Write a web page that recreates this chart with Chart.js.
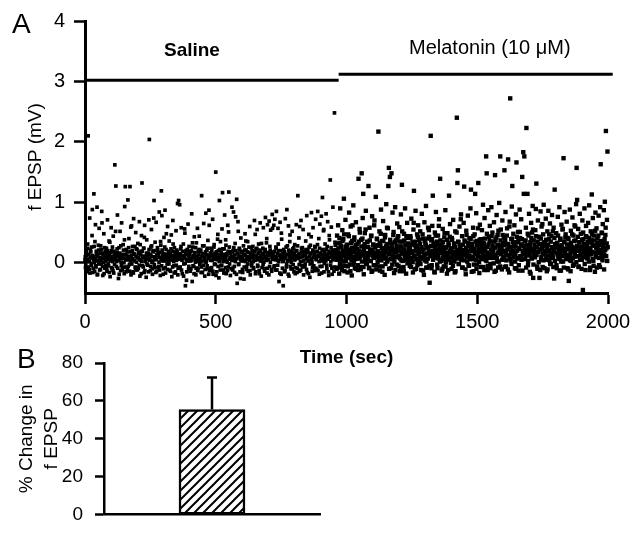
<!DOCTYPE html>
<html>
<head>
<meta charset="utf-8">
<script src="https://cdn.jsdelivr.net/npm/chart.js@4.4.0/dist/chart.umd.min.js"></script>
<style>
  html, body { margin: 0; padding: 0; background: #fff; }
  #wrap { position: relative; width: 640px; height: 538px; overflow: hidden; }
  #wrap canvas { position: absolute; left: 0; }
  #panelA { top: 0; }
  #panelB { top: 338px; }
</style>
</head>
<body>
<div id="wrap">
  <canvas id="panelA" width="640" height="375"></canvas>
  <canvas id="panelB" width="640" height="200"></canvas>
</div>
<script>
// Panel A: fEPSP amplitude (mV), one sweep per second.
// Even and odd second sweeps are kept in separate lists, 2 sec apart each.
const sampleInterval = 2;
const salineStart = 0;
const melatoninStart = 960;

const salineEven = [
  0.05, -0.08, 0.22, 0.12, -0.15, 0.31, 2.10, 0.02, -0.11, 0.74, 0.08, 0.18, -0.04, 0.26, 0.88, -0.16, 0.10, 1.14, 0.01, 0.35,
  0.63, -0.07, 0.14, 0.92, -0.19, 0.04, 0.21, 0.57, -0.12, 0.09, 0.28, -0.02, 0.85, 0.16, -0.21, 0.07, 0.48, 0.12, -0.09, 0.19,
  0.03, 0.24, -0.14, 0.71, 0.11, -0.05, 0.36, 0.15, -0.23, 0.06, 0.58, 0.20, -0.10, 0.02, 0.44, -0.17, 0.13, 1.62, 0.08, 1.27,
  -0.06, 0.17, 0.79, 0.04, -0.26, 0.25, 0.10, 0.52, -0.13, 0.01, 0.66, 0.14, -0.08, 0.30, 0.07, -0.18, 0.93, 1.26, 0.05, 0.22,
  0.12, -0.11, 1.04, 0.09, 0.40, -0.03, 1.26, 0.18, -0.20, 0.61, 0.06, 0.27, -0.15, 0.73, 0.03, 0.14, -0.07, 0.50, 0.23, -0.12,
  0.08, 0.32, -0.09, 0.15, 0.68, -0.22, 0.04, 0.19, 0.45, 1.32, -0.05, 0.11, 0.24, -0.16, 0.62, 0.02, 0.09, -0.24, 0.38, 0.13,
  -0.04, 0.16, 0.71, 2.04, 0.07, -0.13, 0.26, 0.55, 0.01, -0.19, 0.20, 0.10, 1.03, -0.08, 0.34, 0.05, 0.67, -0.14, 0.12, 0.21,
  0.17, -0.06, 0.84, 0.09, -0.21, 0.29, 1.19, 0.78, 0.03, 0.13, -0.10, 0.42, 0.06, 0.87, -0.17, 0.22, 0.11, -0.02, 0.60, 0.08,
  0.02, 0.36, -0.12, 0.14, 0.05, 0.46, -0.23, 0.19, 0.70, 0.07, -0.05, 0.25, 0.11, -0.15, 0.53, 0.04, 0.18, 0.98, -0.09, 1.03,
  0.15, 0.96, -0.07, 0.23, 0.58, 0.06, -0.18, 0.12, 0.31, -0.02, 0.09, 0.49, -0.38, 0.20, -0.29, 0.03, 0.14, 0.64, -0.11, 0.27,
  0.07, -0.14, 0.19, 0.04, 0.81, -0.31, 0.26, 0.10, -0.06, 0.43, 0.16, 0.01, -0.20, 0.33, 0.08, 0.57, -0.09, 0.13, 0.22, 0.05,
  0.18, 0.02, -0.16, 1.11, 0.11, 0.28, -0.04, 0.65, 0.06, -0.22, 0.15, 0.82, 0.03, 0.21, -0.10, 0.37, 0.09, 0.87, -0.13, 0.12,
  0.04, 0.24, -0.08, 0.14, 0.72, -0.19, 0.07, 0.30, 0.10, -0.03, 1.50, 0.17, -0.15, 0.05, 0.47, 0.20, -0.25, 1.03, 0.08, 0.35,
  -0.05, 0.13, 0.56, 1.16, 0.02, -0.12, 0.23, 0.79, 0.09, 0.38, -0.18, 0.15, 0.01, 0.62, -0.07, 1.17, 0.26, 0.06, -0.21, 0.18,
  0.11, 0.92, -0.09, 0.20, 0.84, 0.04, -0.16, 0.32, 0.76, 0.07, 1.05, -0.34, 0.16, 0.52, -0.02, 0.24, 0.10, -0.26, 0.41, 0.03,
  0.19, -0.11, 0.06, 0.28, -0.27, 0.14, 0.48, 0.02, 0.21, -0.06, 0.09, 0.35, -0.14, 0.17, 0.05, 0.60, -0.20, 0.12, 0.25, 0.00,
  0.08, 0.27, -0.08, 0.13, 0.70, 0.04, -0.18, 0.22, 0.10, 0.55, -0.04, 0.16, 0.31, -0.13, 0.07, 0.66, 0.19, -0.22, 0.03, 0.14,
  0.24, 0.58, 0.01, -0.10, 0.18, 0.75, 0.09, 0.33, -0.17, 0.63, 0.12, 0.05, 0.69, -0.06, 0.21, 0.54, 0.15, -0.14, 0.80, 0.06,
  0.17, 0.62, -0.05, 0.72, 0.10, 0.26, 0.85, -0.12, 0.04, 0.57, 0.20, -0.31, 0.13, 0.67, 0.07, -0.19, 0.39, 0.11, 0.02, -0.38,
  0.22, -0.15, 0.09, 0.73, 0.14, -0.07, 0.88, 0.28, 0.03, 0.61, -0.22, 0.16, 0.46, 0.06, -0.10, 0.19, 0.52, 0.11, -0.03, 0.25,
  0.05, 0.30, -0.18, 0.12, 0.63, 0.20, -0.09, 1.11, 0.08, 0.41, -0.14, 0.15, 0.02, 0.70, 0.24, -0.05, 0.10, 0.55, -0.20, 0.17,
  0.13, -0.02, 0.36, 0.07, 0.78, -0.16, 0.21, 0.04, 0.47, 0.11, -0.24, 0.29, 0.16, 0.83, 0.01, -0.08, 0.58, 0.19, 0.09, -0.13,
  0.26, 0.72, 0.06, -0.11, 0.18, 0.85, 0.10, 0.40, -0.19, 0.64, 0.14, 0.03, 0.77, -0.06, 1.08, 0.22, 0.53, -0.15, 0.08, 0.31,
  0.12, 0.81, -0.04, 0.27, 0.68, 0.09, -0.21, 0.45, 0.16, 1.37, 0.02, 0.59, -0.09, 0.20, 0.92, 0.07, -0.14, 2.48, 0.34, 0.11
];

const salineOdd = [
  0.10, -0.03, 0.18, -0.12, 0.06, 0.24, -0.07, 0.14, 0.02, -0.17, 0.21, 0.09, -0.01, 0.45, 0.12, -0.09, 0.05, 0.27, -0.14, 0.08,
  -0.05, 0.19, 0.03, -0.20, 0.11, 0.29, -0.02, 0.07, 0.16, -0.11, 0.04, 0.22, 0.66, -0.06, 0.13, 0.01, -0.18, 0.25, 0.09, -0.04,
  0.15, -0.10, 0.06, 0.20, -0.01, 0.12, -0.16, 0.34, 0.03, 0.17, -0.08, 0.10, 0.26, -0.13, 0.05, 0.19, -0.03, 0.08, 0.52, 0.14,
  0.02, 0.23, -0.09, 0.11, 0.04, -0.19, 0.16, 0.07, 0.28, -0.05, 0.13, -0.12, 0.09, 0.21, 0.00, 0.38, -0.07, 0.14, -0.15, 0.06,
  0.18, 0.05, -0.06, 0.25, 0.10, -0.14, 0.03, 0.59, 0.12, -0.02, 0.20, 0.07, -0.17, 0.15, 0.04, 0.27, -0.09, 0.11, 0.01, 0.22,
  -0.11, 0.09, 0.17, -0.04, 0.06, 0.30, 0.13, -0.18, 0.02, 0.19, 0.08, -0.07, 0.24, 0.42, -0.13, 0.10, 0.05, 0.16, -0.02, 0.12,
  0.07, -0.15, 0.22, 0.04, 0.14, -0.06, 0.11, 0.28, -0.10, 0.03, 0.18, 0.74, -0.03, 0.09, 0.20, -0.16, 0.06, 0.13, 0.25, -0.08,
  0.12, 0.01, -0.12, 0.17, 0.35, 0.06, -0.05, 0.21, 0.10, -0.19, 0.15, 0.03, 0.26, -0.08, 0.08, 0.48, 0.14, -0.11, 0.04, 0.19,
  -0.02, 0.16, 0.09, -0.14, 0.23, 0.05, 0.12, -0.07, 0.31, 0.02, -0.17, 0.18, 0.07, 0.13, -0.04, 0.21, 0.10, -0.20, 0.15, 0.06,
  0.09, -0.08, 0.14, 0.27, -0.12, 0.04, 0.19, 0.08, -0.22, 0.11, 0.56, -0.01, 0.16, 0.06, -0.15, 0.22, 0.03, 0.12, -0.06, 0.18,
  0.14, 0.03, -0.10, 0.20, 0.08, 0.33, -0.05, 0.12, -0.18, 0.17, 0.05, 0.25, -0.09, 0.10, 0.02, -0.13, 0.19, 0.07, 0.44, -0.03,
  0.06, 0.21, -0.07, 0.11, -0.16, 0.15, 0.03, 0.28, 0.09, -0.11, 0.18, 0.01, 0.13, -0.05, 0.24, 0.07, -0.19, 0.62, 0.10, 0.16,
  -0.09, 0.12, 0.20, 0.04, -0.14, 0.09, 0.26, -0.02, 0.15, 0.06, -0.21, 0.18, 0.11, 0.39, -0.06, 0.13, 0.02, 0.22, -0.12, 0.08,
  0.17, -0.04, 0.10, 0.23, 0.05, -0.17, 0.14, 0.08, -0.08, 0.29, 0.03, 0.12, -0.13, 0.19, 0.51, 0.06, -0.02, 0.16, 0.09, -0.10,
  0.04, 0.18, -0.12, 0.09, 0.25, -0.06, 0.13, 0.02, 0.20, -0.19, 0.07, 0.15, 0.68, -0.03, 0.11, 0.22, -0.15, 0.05, 0.17, 0.10,
  0.08, -0.16, 0.14, 0.03, -0.07, 0.21, 0.12, 0.36, -0.11, 0.06, 0.18, -0.02, 0.10, 0.26, 0.04, -0.13, 0.15, 0.09, -0.05, 0.20,
  0.13, 0.02, -0.10, 0.19, 0.07, 0.47, -0.15, 0.11, 0.24, 0.05, -0.06, 0.16, 0.09, -0.18, 0.21, 0.03, 0.12, 0.32, -0.08, 0.07,
  -0.03, 0.15, 0.08, -0.14, 0.22, 0.11, 0.04, 0.40, -0.09, 0.17, 0.06, -0.20, 0.13, 0.27, 0.01, 0.18, -0.11, 0.09, 0.57, 0.14,
  0.10, -0.07, 0.19, 0.05, -0.12, 0.24, 0.08, 0.15, -0.04, 0.31, 0.02, 0.12, -0.17, 0.20, 0.06, 0.49, 0.11, -0.09, 0.16, 0.03,
  0.07, 0.18, -0.13, 0.10, 0.26, -0.02, 0.14, 0.04, -0.19, 0.21, 0.09, 0.35, -0.06, 0.13, 0.01, 0.17, -0.10, 0.23, 0.08, -0.15,
  0.16, 0.05, -0.08, 0.20, 0.11, -0.16, 0.28, 0.07, 0.14, -0.03, 0.60, 0.09, -0.12, 0.18, 0.02, 0.25, -0.07, 0.12, 0.04, 0.19,
  -0.06, 0.13, 0.22, -0.11, 0.08, 0.17, 0.03, -0.18, 0.26, 0.10, -0.02, 0.15, 0.43, 0.06, -0.14, 0.21, 0.09, -0.05, 0.14, 0.27,
  0.11, -0.09, 0.05, 0.19, 0.30, -0.13, 0.12, 0.02, 0.24, -0.06, 0.16, 0.08, -0.17, 0.20, 0.04, 0.13, 0.55, -0.01, 0.18, 0.07,
  0.03, 0.22, -0.10, 0.14, 0.06, -0.15, 0.19, 0.38, 0.09, -0.04, 0.25, 0.12, -0.19, 0.16, 0.05, 0.21, -0.07, 0.11, 0.29, 0.15
];

const melatoninEven = [
  0.21, -0.10, 0.45, 0.08, 0.62, 0.17, -0.18, 0.33, 0.90, 0.05, 0.26, -0.05, 0.54, 0.12, 0.39, 1.06, -0.14, 0.19, 0.71, 0.03,
  0.28, 0.09, -0.16, 0.47, 0.14, 0.83, -0.03, 0.22, 0.60, 0.11, -0.21, 0.36, 0.18, 0.95, 0.02, 0.42, -0.09, 0.25, 0.67, 0.13,
  0.07, 0.31, -0.12, 1.39, 0.20, 0.56, 0.10, -0.07, 0.38, 1.48, 0.15, 0.74, 1.14, -0.19, 0.27, 0.49, 0.04, 0.86, 0.16, -0.02,
  0.35, 0.12, 1.27, -0.08, 0.58, 0.21, 0.03, 0.44, -0.15, 0.77, 0.17, 0.30, -0.04, 0.62, 0.09, 0.25, 1.09, -0.11, 0.40, 0.14,
  0.19, 2.17, 0.05, 0.52, -0.13, 0.28, 0.88, 0.11, 0.36, -0.06, 0.69, 0.15, 0.23, -0.20, 0.46, 0.08, 0.97, 0.31, 0.02, 0.57,
  1.27, 1.57, 0.14, 1.42, 0.33, -0.09, 1.48, 0.24, 0.83, 0.06, 0.51, -0.17, 0.18, 0.92, 0.37, 0.10, -0.03, 0.65, 0.21, 0.44,
  0.12, 0.59, -0.14, 0.27, 0.80, 0.04, 1.29, 0.35, 0.16, -0.07, 0.48, 0.22, 0.90, 0.09, -0.18, 0.30, 0.66, 0.13, 0.41, 0.01,
  0.25, -0.05, 0.44, 0.17, 0.73, 0.08, 0.34, -0.16, 0.55, 1.19, 0.11, 0.29, 0.86, -0.10, 0.20, 0.47, 0.03, 0.62, 0.15, 0.38,
  0.10, 0.52, 0.23, -0.12, 0.81, 0.18, 0.40, 0.06, -0.20, 0.67, 0.14, 0.32, 0.94, 0.02, 0.26, -0.08, 0.58, 0.19, 0.43, -0.33,
  0.16, 2.10, 0.37, -0.04, 0.61, 1.11, 0.09, 0.28, -0.15, 0.50, 0.21, 0.84, 0.12, 0.35, -0.09, 0.45, 0.07, 0.72, 0.24, 1.39,
  0.04, 0.30, -0.13, 0.19, 0.56, 0.08, -0.06, 0.42, 0.15, 0.87, 0.01, 0.26, -0.18, 0.49, 0.11, 0.33, 1.11, 0.05, 0.64, 0.17,
  0.22, -0.10, 0.38, 0.13, 0.71, 0.03, 0.27, -0.16, 0.52, 0.18, 0.09, 2.40, 1.32, 1.53, 0.34, -0.02, 0.60, 0.14, 0.25, 0.80,
  0.07, 0.44, -0.08, 0.21, 0.66, 1.26, 0.12, 0.35, -0.19, 0.53, 0.17, 0.02, 0.78, 0.29, -0.05, 0.41, 0.10, 0.90, 1.21, 0.19,
  0.31, 0.06, 0.58, -0.14, 0.23, 0.47, 1.14, 0.15, 0.82, -0.03, 0.36, 0.11, 1.32, 0.20, -0.17, 0.63, 0.08, 0.39, 0.27, 0.54,
  0.14, 0.96, -0.07, 0.32, 0.74, 0.19, 0.05, 1.76, 1.48, 0.26, -0.12, 0.87, 0.43, 0.10, 0.61, -0.02, 0.35, 0.92, 0.17, 0.50,
  0.24, 0.08, 0.67, -0.15, 1.45, 0.38, 0.13, 0.79, 0.02, 0.46, -0.08, 0.29, 0.99, 0.16, 1.76, 0.55, 0.21, -0.11, 0.70, 0.33,
  0.09, 0.42, 1.53, 0.18, 0.84, -0.06, 0.31, 0.57, 0.12, 1.71, 0.25, -0.16, 0.68, 2.72, 0.04, 0.39, 0.93, 1.27, 0.20, 0.48,
  0.27, 0.62, -0.09, 0.15, 0.80, 1.66, 0.34, 0.07, 0.51, -0.13, 0.23, 0.88, 0.41, 0.11, 0.72, 0.30, 1.42, 0.19, 1.83, 1.14,
  1.76, 0.36, 0.13, 0.58, 2.23, 0.22, 1.14, -0.04, 0.45, 0.81, 0.16, 0.29, -0.18, 0.66, 0.09, 0.50, 0.94, -0.25, 0.37, 0.20,
  0.12, 0.54, 0.89, 1.31, 0.26, -0.10, 0.70, 0.18, 0.43, -0.25, 0.31, 0.85, 0.05, 0.60, 0.22, -0.07, 0.47, 0.96, 0.14, 0.34,
  0.28, 0.73, 0.10, -0.14, 0.52, 0.20, 0.86, 0.39, 0.04, 0.65, 0.15, -0.02, 0.44, 0.79, 0.25, 0.09, 0.58, -0.26, 1.21, 0.31,
  0.17, 0.49, -0.09, 0.33, 0.76, 0.11, 0.27, 0.92, 0.06, 0.40, -0.13, 0.63, 0.21, 0.55, 0.02, 1.73, 0.35, 0.84, 0.14, 0.47,
  0.23, 0.68, 0.08, 0.41, -0.11, -0.30, 0.30, 0.88, 0.15, 0.53, 0.03, 0.26, 0.75, -0.05, 0.45, 0.19, 0.62, 0.10, 0.37, 0.97,
  1.57, 1.04, 0.20, 0.56, -0.07, 0.34, 0.81, 0.12, 0.48, 0.27, 0.05, 0.70, -0.45, 0.39, 0.16, 0.90, 0.24, -0.12, 0.61, 0.43,
  0.31, 0.09, 0.66, 0.22, 0.95, 0.14, -0.08, 0.52, 0.37, 1.13, 0.18, 0.74, 0.03, 0.45, 0.28, -0.15, 0.83, 0.11, 0.57, 0.25,
  0.40, 0.16, 0.78, -0.04, 0.29, 0.92, 1.63, 0.21, 0.50, 0.07, 0.64, 0.33, 0.87, 0.13, 1.01, 0.46, 2.18, 0.24, 0.71, 1.84
];

const melatoninOdd = [
  0.18, 0.05, 0.32, -0.08, 0.24, 0.11, 0.41, -0.02, 0.15, 0.28, 0.07, -0.12, 0.36, 0.20, 0.02, 0.47, 0.13, -0.05, 0.26, 0.09,
  0.12, 0.30, -0.06, 0.21, 0.44, 0.08, 0.17, -0.14, 0.33, 0.04, 0.25, 0.62, 0.10, -0.03, 0.38, 0.19, 0.06, 0.29, -0.10, 0.15,
  0.23, -0.04, 0.14, 0.35, 0.07, 0.50, 0.18, -0.11, 0.27, 0.02, 0.40, 0.12, -0.07, 0.21, 0.31, 0.09, 0.55, -0.01, 0.16, 0.34,
  0.06, 0.26, 0.13, -0.09, 0.37, 0.19, 0.03, 0.45, 0.22, -0.13, 0.11, 0.30, 0.08, 0.70, 0.17, -0.04, 0.28, 0.14, 0.39, 0.01,
  0.29, 0.10, -0.06, 0.33, 0.16, 0.48, 0.04, 0.24, -0.15, 0.20, 0.36, 0.07, 0.13, 0.42, -0.02, 0.27, 0.18, 0.58, 0.05, 0.22,
  0.14, -0.10, 0.25, 0.38, 0.06, 0.19, 0.31, -0.03, 0.12, 0.46, 0.21, 0.02, 0.34, -0.12, 0.17, 0.28, 0.09, 0.40, 0.23, -0.05,
  0.20, 0.35, 0.07, -0.08, 0.27, 0.15, 0.52, 0.03, 0.22, -0.14, 0.37, 0.11, 0.29, 0.05, 0.44, 0.18, -0.01, 0.32, 0.10, 0.25,
  0.08, 0.23, 0.41, -0.07, 0.16, 0.30, 0.01, 0.19, 0.66, 0.12, -0.11, 0.35, 0.24, 0.06, 0.28, -0.04, 0.43, 0.14, 0.21, 0.03,
  0.31, -0.02, 0.18, 0.26, 0.09, 0.47, -0.13, 0.22, 0.12, 0.36, 0.04, 0.29, -0.08, 0.15, 0.40, 0.07, 0.25, 0.54, -0.05, 0.17,
  0.11, 0.28, -0.09, 0.39, 0.20, 0.05, 0.33, 0.14, -0.16, 0.24, 0.45, 0.08, 0.18, -0.03, 0.30, 0.12, 0.61, 0.22, 0.02, 0.37,
  0.16, 0.03, 0.27, -0.10, 0.34, 0.13, 0.21, 0.49, 0.06, -0.06, 0.25, 0.10, 0.38, 0.17, -0.12, 0.29, 0.08, 0.43, 0.19, 0.00,
  0.24, 0.41, 0.09, -0.05, 0.18, 0.32, 0.02, 0.26, -0.14, 0.14, 0.50, 0.21, 0.07, 0.35, -0.02, 0.19, 0.28, 0.11, 0.72, 0.05,
  0.13, -0.08, 0.30, 0.20, 0.04, 0.37, 0.15, -0.11, 0.25, 0.46, 0.09, 0.19, 0.33, -0.04, 0.12, 0.27, 0.06, 0.39, 0.22, -0.15,
  0.27, 0.10, 0.44, -0.03, 0.21, 0.16, 0.35, 0.05, -0.10, 0.29, 0.13, 0.57, 0.23, 0.01, 0.38, 0.18, -0.07, 0.31, 0.09, 0.24,
  0.06, 0.33, 0.19, -0.12, 0.40, 0.11, 0.26, 0.03, 0.48, 0.17, -0.05, 0.30, 0.14, 0.36, 0.08, -0.09, 0.22, 0.44, 0.12, 0.28,
  0.19, -0.01, 0.35, 0.12, 0.25, -0.13, 0.42, 0.08, 0.30, 0.17, 0.53, 0.02, 0.23, -0.06, 0.37, 0.14, 0.27, 0.05, 0.46, 0.20,
  0.10, 0.29, -0.07, 0.38, 0.16, 0.04, 0.45, 0.22, -0.11, 0.31, 0.13, 0.60, 0.07, 0.26, 0.18, -0.02, 0.40, 0.15, 0.34, 0.09,
  0.32, 0.14, 0.02, 0.27, -0.10, 0.43, 0.20, 0.08, 0.36, -0.04, 0.24, 0.51, 0.11, 0.30, 0.05, 0.39, -0.13, 0.18, 0.28, 0.15,
  0.21, 0.06, 0.37, -0.08, 0.29, 0.16, 0.48, 0.03, 0.25, 0.12, -0.15, 0.34, 0.19, 0.41, 0.07, 0.23, 0.55, -0.03, 0.14, 0.30,
  0.09, 0.26, 0.44, 0.13, -0.06, 0.35, 0.18, 0.01, 0.31, 0.22, -0.12, 0.40, 0.10, 0.27, 0.64, 0.15, 0.04, 0.33, -0.09, 0.20,
  0.17, 0.38, 0.05, 0.24, -0.11, 0.30, 0.12, 0.47, 0.20, -0.02, 0.35, 0.08, 0.26, 0.15, 0.52, -0.07, 0.19, 0.41, 0.03, 0.28,
  0.25, -0.04, 0.32, 0.14, 0.45, 0.07, 0.21, -0.13, 0.38, 0.18, 0.02, 0.29, 0.11, 0.56, 0.23, -0.08, 0.34, 0.16, 0.42, 0.06,
  0.13, 0.30, -0.09, 0.22, 0.39, 0.10, 0.27, 0.04, -0.14, 0.33, 0.19, 0.47, 0.08, 0.25, -0.03, 0.36, 0.15, 0.60, 0.21, 0.01,
  0.28, 0.11, 0.43, -0.06, 0.20, 0.34, 0.05, 0.26, 0.15, -0.10, 0.38, 0.22, 0.50, 0.09, 0.31, -0.02, 0.18, 0.44, 0.12, 0.27,
  0.07, 0.35, 0.19, 0.02, 0.41, -0.12, 0.24, 0.14, 0.32, 0.48, 0.06, 0.29, -0.05, 0.37, 0.17, 0.53, 0.10, 0.25, -0.08, 0.33,
  0.22, 0.45, 0.08, 0.30, -0.07, 0.18, 0.36, 0.13, 0.49, 0.04, 0.27, 0.16, -0.11, 0.39, 0.21, 0.58, 0.11, 0.32, 0.03, 0.26
];

const xTicks = [0, 500, 1000, 1500, 2000];
const yTicks = [0, 1, 2, 3, 4];

// treatment bars across the top of panel A
const treatmentNames = ['Saline', 'Melatonin (10 \u03bcM)'];
const treatmentFrom = [0, 970];
const treatmentTo = [970, 2018];
const treatmentLevel = [3.02, 3.12];

// Panel B: mean % change in fEPSP with SEM
const barLabels = ['Melatonin'];
const pctChange = [55.4];
const pctChangeSem = [17.0];
const barTicks = [0, 20, 40, 60, 80];

Chart.defaults.font.family = '"Liberation Sans", Arial, sans-serif';
Chart.defaults.color = '#000';

const toPoints = (vals, start) => vals.map((v, i) => ({ x: start + i * sampleInterval, y: v }));

// draws the panel letter and any free text notes
const panelLabels = {
    id: 'panelLabels',
    afterDraw(chart, args, opts) {
        const ctx = chart.ctx;
        ctx.save();
        ctx.fillStyle = '#000';
        ctx.textBaseline = 'alphabetic';
        ctx.textAlign = 'left';
        ctx.font = '28px "Liberation Sans", Arial, sans-serif';
        ctx.fillText(opts.letter, opts.letterX, opts.letterY);
        (opts.notes || []).forEach(n => {
            ctx.font = n.font;
            ctx.textAlign = 'center';
            ctx.fillText(n.text, chart.scales.x.getPixelForValue(n.at), n.y);
        });
        ctx.restore();
    }
};

const errorBars = {
    id: 'errorBars',
    afterDatasetsDraw(chart) {
        const ctx = chart.ctx;
        const yScale = chart.scales.y;
        chart.getDatasetMeta(0).data.forEach((bar, i) => {
            const base = yScale.getPixelForValue(pctChange[i]);
            const top = yScale.getPixelForValue(pctChange[i] + pctChangeSem[i]);
            ctx.save();
            ctx.strokeStyle = '#000';
            ctx.lineWidth = 2.5;
            ctx.beginPath();
            ctx.moveTo(bar.x, base);
            ctx.lineTo(bar.x, top);
            ctx.moveTo(bar.x - 5, top);
            ctx.lineTo(bar.x + 5, top);
            ctx.stroke();
            ctx.restore();
        });
    }
};

function makeHatch(target) {
    const c = document.createElement('canvas');
    c.width = 9;
    c.height = 9;
    const g = c.getContext('2d');
    g.fillStyle = '#fff';
    g.fillRect(0, 0, 9, 9);
    g.strokeStyle = '#000';
    g.lineWidth = 2;
    g.beginPath();
    g.moveTo(-1, 10); g.lineTo(10, -1);
    g.moveTo(-1, 1); g.lineTo(1, -1);
    g.moveTo(8, 10); g.lineTo(10, 8);
    g.stroke();
    return target.getContext('2d').createPattern(c, 'repeat');
}

const axisLine = { color: '#000', width: 3 };
const tickMarks = { drawOnChartArea: false, tickLength: 11, tickWidth: 2.5, tickColor: '#000' };

const treatmentBars = treatmentNames.map((name, i) => ({
    label: name,
    data: [{ x: treatmentFrom[i], y: treatmentLevel[i] }, { x: treatmentTo[i], y: treatmentLevel[i] }],
    showLine: true,
    borderColor: '#000',
    borderWidth: 3,
    pointRadius: 0,
    clip: false
}));

new Chart(document.getElementById('panelA'), {
    type: 'scatter',
    data: {
        datasets: [
            {
                label: 'Saline',
                data: [...toPoints(salineEven, salineStart), ...toPoints(salineOdd, salineStart + 1)],
                pointStyle: 'rect',
                pointRadius: 2.6,
                pointBackgroundColor: '#000',
                pointBorderWidth: 0,
                clip: false
            },
            {
                label: 'Melatonin',
                data: [...toPoints(melatoninEven, melatoninStart), ...toPoints(melatoninOdd, melatoninStart + 1)],
                pointStyle: 'rect',
                pointRadius: 3.1,
                pointBackgroundColor: '#000',
                pointBorderWidth: 0,
                clip: false
            },
            ...treatmentBars
        ]
    },
    options: {
        responsive: false,
        animation: false,
        devicePixelRatio: 1,
        layout: { padding: { top: 16, right: 32, bottom: 0, left: 0 } },
        plugins: {
            legend: { display: false },
            tooltip: { enabled: false },
            panelLabels: {
                letter: 'A', letterX: 12, letterY: 33,
                notes: [
                    { text: treatmentNames[0], at: 409, y: 56, font: 'bold 19px "Liberation Sans", Arial, sans-serif' },
                    { text: treatmentNames[1], at: 1548, y: 54, font: '20px "Liberation Sans", Arial, sans-serif' }
                ]
            }
        },
        scales: {
            x: {
                type: 'linear',
                min: 0,
                max: 2000,
                afterBuildTicks: s => { s.ticks = xTicks.map(v => ({ value: v })); },
                afterFit: s => { s.height = 82; },
                ticks: { font: { size: 20 }, padding: 6, maxRotation: 0, callback: v => String(v) },
                grid: tickMarks,
                border: axisLine,
                title: { display: true, text: 'Time (sec)', font: { size: 19, weight: 'bold' }, padding: { bottom: 6 } }
            },
            y: {
                min: -0.5,
                max: 4,
                afterBuildTicks: s => { s.ticks = yTicks.map(v => ({ value: v })); },
                afterFit: s => { s.width = 85; },
                ticks: { font: { size: 20 }, padding: 9, callback: v => String(v) },
                grid: tickMarks,
                border: axisLine,
                title: { display: true, text: 'f EPSP (mV)', font: { size: 19 }, padding: { top: 24 } }
            }
        }
    },
    plugins: [panelLabels]
});

const canvasB = document.getElementById('panelB');

new Chart(canvasB, {
    type: 'bar',
    data: {
        labels: barLabels,
        datasets: [{
            data: pctChange,
            backgroundColor: makeHatch(canvasB),
            borderColor: '#000',
            borderWidth: 2.5,
            borderSkipped: false,
            barThickness: 66
        }]
    },
    options: {
        responsive: false,
        animation: false,
        devicePixelRatio: 1,
        layout: { padding: { top: 25, right: 320, bottom: 6, left: 0 } },
        plugins: {
            legend: { display: false },
            tooltip: { enabled: false },
            panelLabels: { letter: 'B', letterX: 17, letterY: 30 }
        },
        scales: {
            x: {
                grid: { display: false },
                ticks: { display: false },
                border: { color: '#000', width: 2.5 },
                afterFit: s => { s.height = 0; }
            },
            y: {
                min: 0,
                max: 80,
                afterBuildTicks: s => { s.ticks = barTicks.map(v => ({ value: v })); },
                afterFit: s => { s.width = 104; },
                ticks: { font: { size: 19 }, padding: 12 },
                grid: { drawOnChartArea: false, tickLength: 9, tickWidth: 2.5, tickColor: '#000' },
                border: { color: '#000', width: 2.5 },
                title: { display: true, text: ['% Change in', 'f EPSP'], font: { size: 19, lineHeight: 1.28 }, padding: { top: 15 } }
            }
        }
    },
    plugins: [errorBars, panelLabels]
});
</script>
</body>
</html>
